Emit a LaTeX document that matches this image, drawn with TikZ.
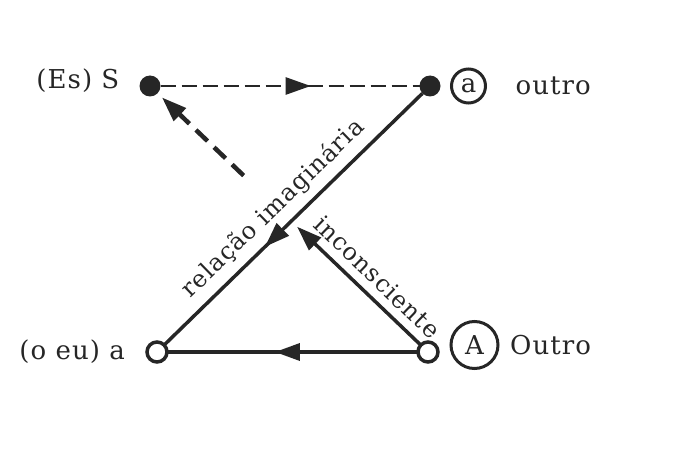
\documentclass[tikz,border=0pt]{standalone}
\usepackage{fontspec}
\setmainfont{DejaVu Serif}[LetterSpace=4]
\usetikzlibrary{positioning,arrows.meta,decorations.markings}
\begin{document}
\begin{tikzpicture}[x=1pt,y=1pt,
  font=\fontsize{26}{30}\selectfont,
  fulldot/.style={circle,fill=black!85,minimum size=21pt,inner sep=0pt,outer sep=0pt},
  opendot/.style={circle,draw=black!85,line width=3.5pt,fill=white,minimum size=20pt,inner sep=0pt,outer sep=0pt},
  ring/.style={circle,draw=black!85,line width=3pt,inner sep=0pt,outer sep=0pt,text=black!85},
  lbl/.style={inner sep=2pt,text=black!85},
  linelbl/.style={text=black!85,font=\fontsize{24}{28}\selectfont,sloped,above},
  rel/.style={draw=black!85,line width=3.5pt},
  dashrel/.style={draw=black!85,line width=#1,dash pattern=on 15pt off 6pt},
  tip/.style={-{Triangle[length=25pt,width=17pt]}},
  midarrow/.style={postaction={decorate},
    decoration={markings,mark=at position #1 with {\arrow{Triangle[length=25pt,width=17pt]}}}}]
\useasboundingbox (0,0) rectangle (683,467);
\node[fulldot] (S) at (150,381) {};
\node[fulldot] (ap) at (430,381) {};
\node[opendot] (a) at (157,115) {};
\node[opendot] (A) at (428,115) {};
\node[lbl,left=18pt of S,yshift=5pt] (SL) {(Es) S};
\node[lbl,left=20pt of a] (aL) {(o eu) a};
\node[ring,minimum size=34pt,right=11pt of ap] (ac) {a};
\node[lbl,right=28pt of ac] (acL) {outro};
\node[ring,minimum size=47pt,right=13pt of A,yshift=7pt] (Ac) {A};
\node[lbl,right=10pt of Ac] (AcL) {Outro};
\draw[dashrel=2.5pt,midarrow=0.58] (S) -- (ap);
\draw[rel,midarrow=0.61] (ap) -- (a);
\draw[rel,midarrow=0.57] (A) -- (a);
\path (A) -- (S) coordinate[pos=0.47] (X) coordinate[pos=0.673] (Y);
\draw[rel,tip] (A) -- (X);
\draw[dashrel=4.5pt,dash pattern=on 16pt off 9pt,tip,shorten >=6pt] (Y) -- (S);
\path (a) -- (ap) node[linelbl,pos=0.48,inner sep=9pt] (relL) {relação imaginária};
\path (S) -- (A) node[linelbl,pos=0.785,inner sep=10pt] (incL) {inconsciente};
\end{tikzpicture}
\end{document}
